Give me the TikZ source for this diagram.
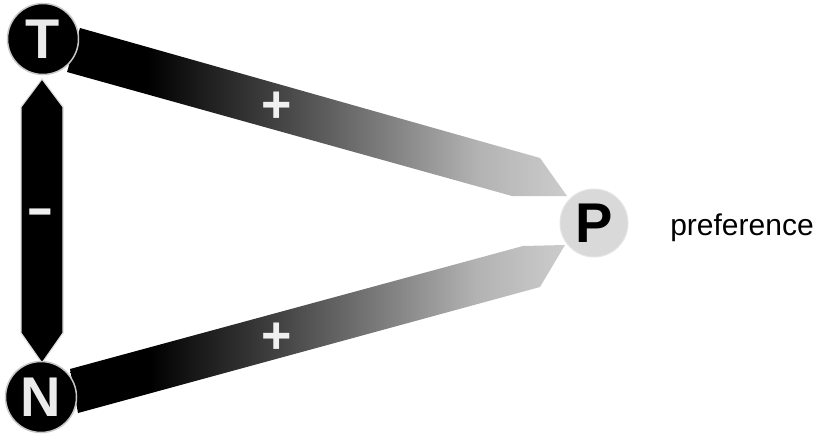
\documentclass[tikz,border=0pt]{standalone}
\usepackage{fontspec}
\setmainfont{Liberation Sans}
\pgfdeclarehorizontalshading{bandshade}{100bp}{color(0bp)=(black); color(33bp)=(black); color(46bp)=(black!74); color(58bp)=(black!48); color(66bp)=(black!30); color(75bp)=(black!20); color(100bp)=(black!20)}
\tikzset{
  letter/.style={circle, minimum size=71pt, inner sep=0pt, font=\bfseries\fontsize{56}{56}\selectfont},
  darknode/.style={letter, fill=black, draw=black!22, line width=1.5pt, text=black!8},
  lightnode/.style={letter, fill=black!15, draw=black!10, line width=1pt, text=black, minimum size=68pt},
  sign/.style={text=black!6, font=\bfseries\fontsize{52}{52}\selectfont, inner sep=0pt},
  band/.style={shading=bandshade, draw=none},
  vbar/.style={fill=black, draw=black!12, line width=1.2pt, line join=miter}
}
\begin{document}
\begin{tikzpicture}[x=1pt,y=-1pt]
\useasboundingbox (0,0) rectangle (821,441);
% coordinates for the band shapes
\coordinate (u1) at (80,28);
\coordinate (u2) at (540,158);
\coordinate (u3) at (567,196);
\coordinate (u4) at (512,196);
\coordinate (u5) at (67,72);
\coordinate (l1) at (70,369);
\coordinate (l2) at (523,246);
\coordinate (l3) at (565,245);
\coordinate (l4) at (540,287);
\coordinate (l5) at (78,413);
% upper and lower bands
\shade[band] (u1) -- (u2) -- (u3) -- (u4) -- (u5) -- cycle;
\shade[band] (l1) -- (l2) -- (l3) -- (l4) -- (l5) -- cycle;
% vertical double arrow
\coordinate (vt) at (42,79);
\coordinate (vb) at (42,363);
\draw[vbar] (vt) -- (63,107) -- (63,333) -- (vb) -- (21,333) -- (21,107) -- cycle;
% nodes
\node[darknode] (T) at (43,39) {T};
\node[darknode] (N) at (41,397) {N};
\node[lightnode] (P) at (594,223) {P};
% signs
\node[sign] (minus) at (40,217) {\scalebox{1.6}[1]{-}};
\node[sign] (plusu) at (277,107) {+};
\node[sign] (plusl) at (277,338) {+};
% label
\node[font=\fontsize{30}{30}\selectfont, anchor=base, inner sep=0pt] (pref) at (742,235) {preference};
\end{tikzpicture}
\end{document}
